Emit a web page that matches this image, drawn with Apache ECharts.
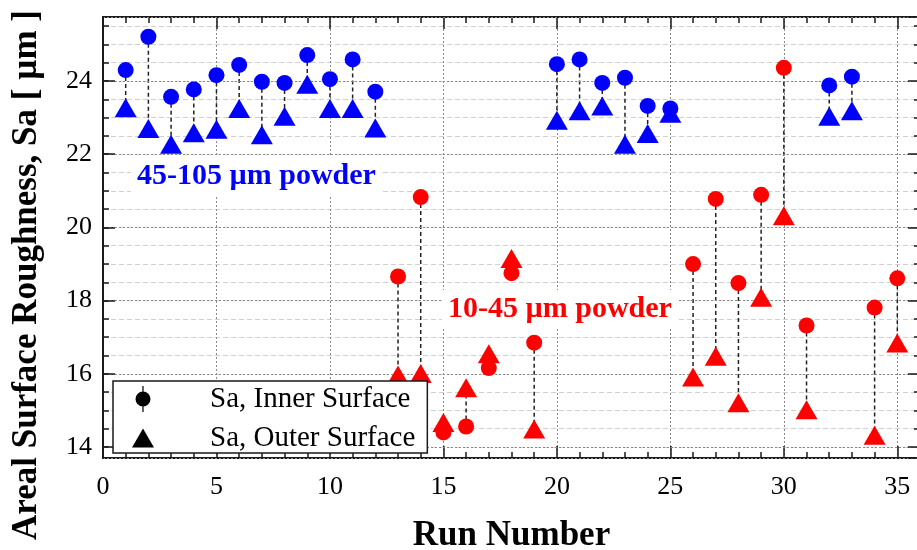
<!DOCTYPE html>
<html><head><meta charset="utf-8">
<script src="https://cdn.jsdelivr.net/npm/echarts@6/dist/echarts.min.js"></script>
<style>html,body{margin:0;padding:0;background:#fff}#c{width:917px;height:550px}</style>
</head><body><div id="c"></div>
<script>
// ---- data ----
const blueRuns  = [1,2,3,4,5,6,7,8,9,10,11,12,20,21,22,23,24,25,32,33];
const blueInner = [24.30,25.21,23.57,23.77,24.16,24.44,23.98,23.95,24.71,24.05,24.59,23.71,24.46,24.59,23.95,24.09,23.32,23.25,23.88,24.12];
const blueOuter = [23.27,22.70,22.27,22.59,22.68,23.25,22.53,23.04,23.91,23.25,23.25,22.72,22.93,23.19,23.32,22.27,22.57,23.12,23.04,23.19];
const redRuns   = [13,14,15,16,17,18,19,26,27,28,29,30,31,34,35];
const redInner  = [18.66,20.83,14.40,14.56,16.16,18.75,16.85,19.00,20.78,18.48,20.89,24.36,17.32,17.81,18.61];
const redOuter  = [15.97,16.01,14.67,15.62,16.55,19.15,14.49,15.91,16.48,15.21,18.09,20.32,15.02,14.32,16.84];
const legendNames = ['Sa, Inner Surface', 'Sa, Outer Surface'];
const annotationTexts = ['45-105 µm powder', '10-45 µm powder'];
const xTitle = 'Run Number';
const yTitle = 'Areal Surface Roughness, Sa [ µm ]';

const SERIF = "'Liberation Serif','Times New Roman',serif";
const BLUE = '#0000ff', RED = '#ff0000', INK = '#1a1a1a';

const pairs = (runs, a) => runs.map((r, i) => [r, a[i]]);
const stems = (runs, a, b) => runs.map((r, i) => [r, a[i], b[i]]);

const chart = echarts.init(document.getElementById('c'));

const X_MIN = 0, X_MAX = 36, Y_MIN = 13.7, Y_MAX = 25.75;
const axLine = {show: true, onZero: false, lineStyle: {color: INK, width: 2}};

function xAxisDef(pos, interval, tickLen, withLabels, withSplit) {
  return {
    type: 'value', position: pos, min: X_MIN, max: X_MAX, interval: interval,
    axisLine: axLine,
    axisTick: {show: true, inside: true, length: tickLen, lineStyle: {color: INK, width: 1.5}},
    axisLabel: {show: withLabels, margin: 16, fontFamily: SERIF, fontSize: 26, color: '#000', showMaxLabel: false},
    splitLine: {show: withSplit, lineStyle: {color: '#8a8a8a', type: [2, 2], width: 1}},
    minorTick: {show: false}, minorSplitLine: {show: false}
  };
}
function yAxisDef(pos, splitNumber, tickLen, withLabels, split, z) {
  return {
    type: 'value', position: pos, min: Y_MIN, max: Y_MAX, splitNumber: splitNumber, z: z,
    axisLine: axLine,
    axisTick: {show: true, inside: true, length: tickLen, lineStyle: {color: INK, width: 1.5}},
    axisLabel: {show: withLabels, margin: 11, fontFamily: SERIF, fontSize: 26, color: '#000', showMinLabel: false, showMaxLabel: false},
    splitLine: split
  };
}

const majorSplit = {show: true, lineStyle: {color: '#8a8a8a', type: [2, 2], width: 1}};
const minorSplit = {show: true, lineStyle: {color: '#d0d0d0', type: [5, 3], width: 1}};

const xBottom = xAxisDef('bottom', 5, 12, true, true);
xBottom.name = xTitle;
xBottom.nameLocation = 'middle';
xBottom.nameGap = 60;
xBottom.nameTextStyle = {fontFamily: SERIF, fontSize: 35, fontWeight: 'bold', color: '#000'};

const circlePath = 'path://M0,13 A7.5,7.5 0 1,0 15,13 A7.5,7.5 0 1,0 0,13 Z M6.9,0 L8.1,0 L8.1,5.6 L6.9,5.6 Z M6.9,20.4 L8.1,20.4 L8.1,26 L6.9,26 Z';
const triPath = 'path://M11,0 L22,19 L0,19 Z';

const stemSeries = (name, data) => ({
  type: 'custom', name: name, z: 1, silent: true,
  encode: {x: 0, y: [1, 2]},
  data: data,
  renderItem: function (params, api) {
    const a = api.coord([api.value(0), api.value(1)]);
    const b = api.coord([api.value(0), api.value(2)]);
    return {type: 'line', shape: {x1: a[0], y1: a[1], x2: b[0], y2: b[1]},
            style: {stroke: '#222', lineWidth: 1.5, lineDash: [4, 3]}};
  }
});

const option = {
  animation: false,
  backgroundColor: '#fff',
  grid: {left: 103, right: -3, top: 17, bottom: 92, show: false, containLabel: false, outerBoundsMode: 'none'},
  xAxis: [
    xBottom,
    xAxisDef('bottom', 1, 6, false, false),
    xAxisDef('top', 5, 12, false, false),
    xAxisDef('top', 1, 6, false, false)
  ],
  yAxis: [
    yAxisDef('left', 5, 12, true, majorSplit, 2),
    yAxisDef('left', 24, 6, false, minorSplit, 0),
    yAxisDef('right', 5, 12, false, {show: false}, 2),
    yAxisDef('right', 24, 6, false, {show: false}, 2)
  ],
  legend: {
    orient: 'vertical', left: 113, top: 381, z: 20,
    padding: [3, 12, 0, 19], itemGap: 9, itemWidth: 22, itemHeight: 26,
    backgroundColor: '#fff', borderColor: INK, borderWidth: 1.5, borderRadius: 0,
    selectedMode: false,
    textStyle: {fontFamily: SERIF, fontSize: 29, color: '#000', lineHeight: 30, padding: [0, 0, 0, 51]},
    data: [
      {name: legendNames[0], icon: circlePath, itemStyle: {color: '#000'}},
      {name: legendNames[1], icon: triPath, itemStyle: {color: '#000'}}
    ]
  },
  graphic: [
    {type: 'text', x: 131, y: 176, z: 10,
     style: {text: annotationTexts[0], fontFamily: SERIF, fontSize: 30, fontWeight: 'bold', fill: BLUE,
             backgroundColor: '#fff', padding: [4, 6], align: 'left', verticalAlign: 'middle'}},
    {type: 'text', x: 442, y: 309, z: 10,
     style: {text: annotationTexts[1], fontFamily: SERIF, fontSize: 30, fontWeight: 'bold', fill: RED,
             backgroundColor: '#fff', padding: [4, 6], align: 'left', verticalAlign: 'middle'}},
    {type: 'text', x: 27, y: 275, rotation: Math.PI / 2, z: 10,
     style: {text: yTitle, fontFamily: SERIF, fontSize: 35, fontWeight: 'bold', fill: '#000',
             align: 'center', verticalAlign: 'middle'}}
  ],
  series: [
    stemSeries('stems blue', stems(blueRuns, blueInner, blueOuter)),
    stemSeries('stems red', stems(redRuns, redInner, redOuter)),
    {type: 'scatter', name: legendNames[1], z: 3, symbol: 'triangle', symbolSize: [22, 19],
     itemStyle: {color: BLUE, opacity: 1}, data: pairs(blueRuns, blueOuter)},
    {type: 'scatter', name: legendNames[1], z: 3, symbol: 'triangle', symbolSize: [22, 19],
     itemStyle: {color: RED, opacity: 1}, data: pairs(redRuns, redOuter)},
    {type: 'scatter', name: legendNames[0], z: 4, symbol: 'circle', symbolSize: 16,
     itemStyle: {color: BLUE, opacity: 1}, data: pairs(blueRuns, blueInner)},
    {type: 'scatter', name: legendNames[0], z: 4, symbol: 'circle', symbolSize: 16,
     itemStyle: {color: RED, opacity: 1}, data: pairs(redRuns, redInner)}
  ]
};
chart.setOption(option);
</script>
</body></html>
